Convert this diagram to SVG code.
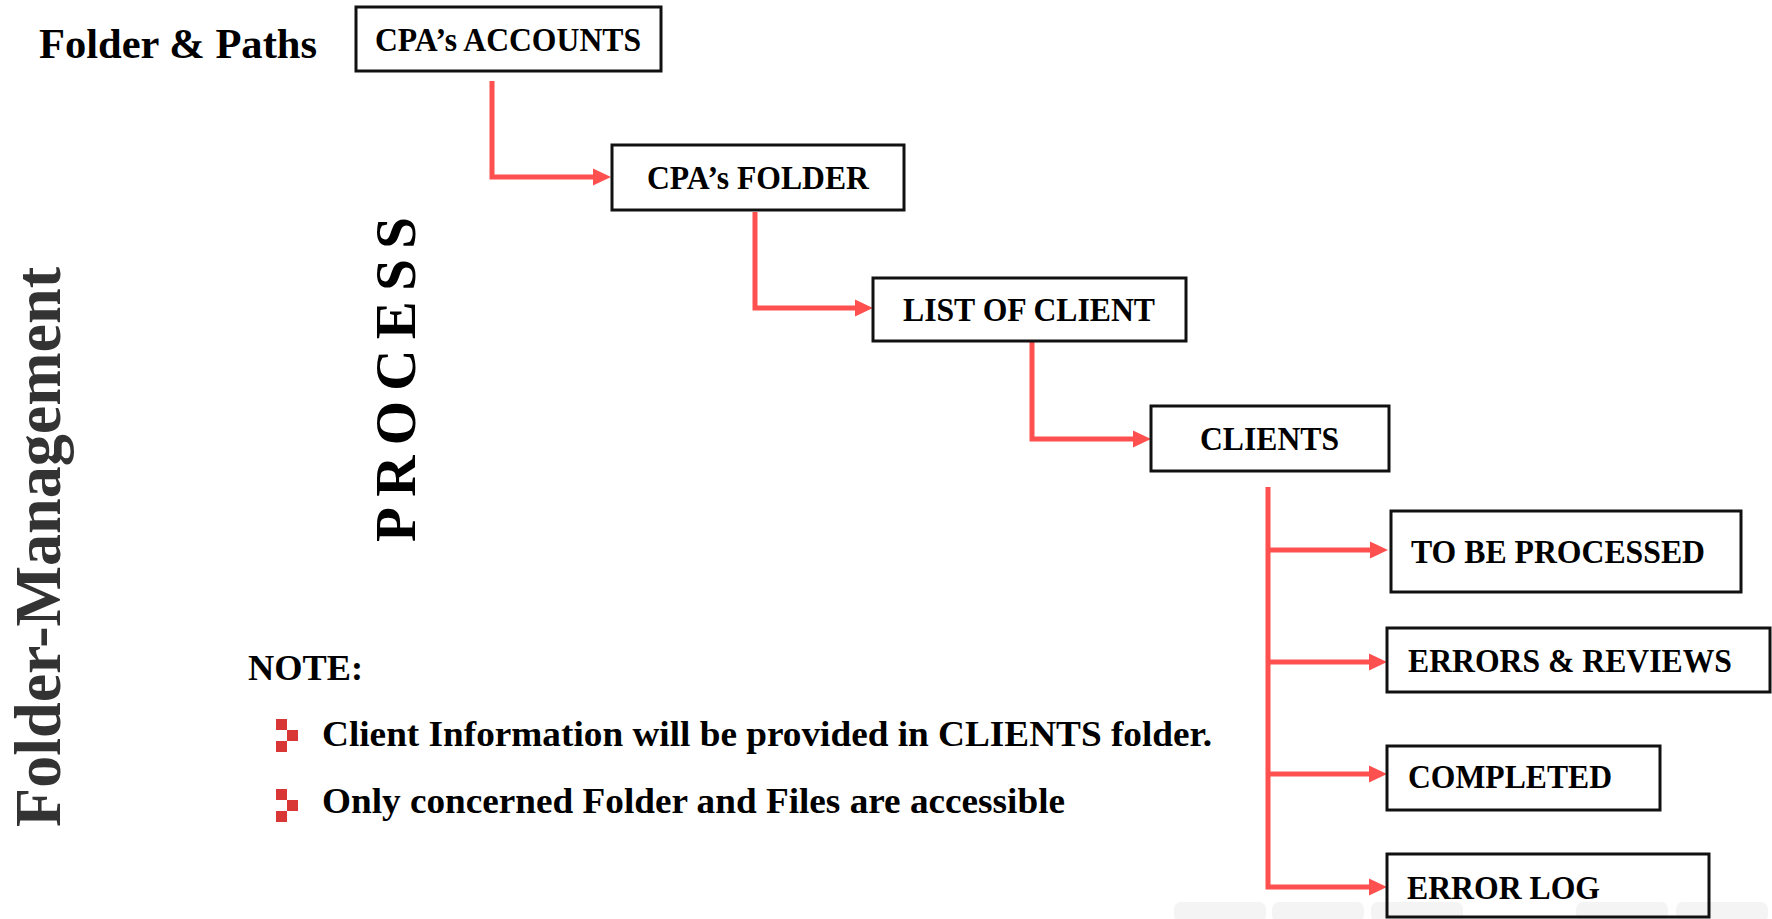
<svg xmlns="http://www.w3.org/2000/svg" width="1772" height="919" viewBox="0 0 1772 919">
<style>
.bg{fill:#ffffff}
.box{fill:none;stroke:#111111;stroke-width:3}
.lbl{font-family:"Liberation Serif","Times New Roman",serif;font-weight:bold;font-size:33px;fill:#000000}
.title{font-family:"Liberation Serif","Times New Roman",serif;font-weight:bold;fill:#000000}
.side{font-family:"Liberation Serif","Times New Roman",serif;font-weight:bold;fill:#333333}
.conn{fill:none;stroke:#FF5050;stroke-width:5;stroke-linejoin:miter}
.bul{fill:#D93636}
.foot{fill:#f4f4f4}
</style>
<defs>
<marker id="arr" markerUnits="userSpaceOnUse" markerWidth="19" markerHeight="18" refX="0" refY="8.5" orient="auto" overflow="visible">
<path d="M0,0 L18,8.5 L0,17 Z" fill="#FF5050"/>
</marker>
</defs>
<rect class="bg" x="0" y="0" width="1772" height="919"/>
<g id="footer">
<rect class="foot" x="1174" y="902" width="92" height="20" rx="7"/>
<rect class="foot" x="1272" y="902" width="92" height="20" rx="7"/>
<rect class="foot" x="1371" y="902" width="92" height="20" rx="7"/>
<rect class="foot" x="1576" y="902" width="92" height="20" rx="7"/>
<rect class="foot" x="1676" y="902" width="92" height="20" rx="7"/>
</g>
<g id="heading">
<text class="title" x="39" y="58" font-size="43" textLength="278" lengthAdjust="spacingAndGlyphs">Folder &amp; Paths</text>
</g>
<g id="side-title">
<text class="side" transform="translate(60,827) rotate(-90)" x="0" y="0" font-size="65" textLength="560" lengthAdjust="spacingAndGlyphs">Folder-Management</text>
</g>
<g id="process-label">
<text class="title" transform="translate(415,542) rotate(-90)" x="0" y="0" font-size="57" textLength="325" lengthAdjust="spacing">PROCESS</text>
</g>
<g id="connectors">
<path class="conn" d="M492,81 V177 H593" marker-end="url(#arr)"/>
<path class="conn" d="M755,212 V308 H855" marker-end="url(#arr)"/>
<path class="conn" d="M1032,342 V439 H1133" marker-end="url(#arr)"/>
<path class="conn" d="M1268,487 V887 H1369" marker-end="url(#arr)"/>
<path class="conn" d="M1268,550 H1370" marker-end="url(#arr)"/>
<path class="conn" d="M1268,662 H1369" marker-end="url(#arr)"/>
<path class="conn" d="M1268,774 H1369" marker-end="url(#arr)"/>
</g>
<g id="cpa-accounts">
<rect class="box" x="356" y="7" width="305" height="64"/>
<text class="lbl" x="375" y="51" textLength="266" lengthAdjust="spacingAndGlyphs">CPA’s ACCOUNTS</text>
</g>
<g id="cpa-folder">
<rect class="box" x="612" y="145" width="292" height="65"/>
<text class="lbl" x="647" y="189" textLength="222" lengthAdjust="spacingAndGlyphs">CPA’s FOLDER</text>
</g>
<g id="list-of-client">
<rect class="box" x="873" y="278" width="313" height="63"/>
<text class="lbl" x="903" y="321" textLength="252" lengthAdjust="spacingAndGlyphs">LIST OF CLIENT</text>
</g>
<g id="clients">
<rect class="box" x="1151" y="406" width="238" height="65"/>
<text class="lbl" x="1200" y="450" textLength="139" lengthAdjust="spacingAndGlyphs">CLIENTS</text>
</g>
<g id="to-be-processed">
<rect class="box" x="1391" y="511" width="350" height="81"/>
<text class="lbl" x="1411" y="563" textLength="294" lengthAdjust="spacingAndGlyphs">TO BE PROCESSED</text>
</g>
<g id="errors-reviews">
<rect class="box" x="1387" y="628" width="383" height="64"/>
<text class="lbl" x="1408" y="672" textLength="324" lengthAdjust="spacingAndGlyphs">ERRORS &amp; REVIEWS</text>
</g>
<g id="completed">
<rect class="box" x="1387" y="746" width="273" height="64"/>
<text class="lbl" x="1408" y="788" textLength="204" lengthAdjust="spacingAndGlyphs">COMPLETED</text>
</g>
<g id="error-log">
<rect class="box" x="1387" y="854" width="322" height="63"/>
<text class="lbl" x="1407" y="899" textLength="193" lengthAdjust="spacingAndGlyphs">ERROR LOG</text>
</g>
<g id="note">
<text class="title" x="248" y="680" font-size="36" textLength="115" lengthAdjust="spacingAndGlyphs">NOTE:</text>
<rect class="bul" x="276" y="719" width="11" height="11"/>
<rect class="bul" x="287" y="730" width="11" height="11"/>
<rect class="bul" x="276" y="741" width="11" height="11"/>
<text class="title" x="322" y="746" font-size="35" textLength="890" lengthAdjust="spacingAndGlyphs">Client Information will be provided in CLIENTS folder.</text>
<rect class="bul" x="276" y="789" width="11" height="11"/>
<rect class="bul" x="287" y="800" width="11" height="11"/>
<rect class="bul" x="276" y="811" width="11" height="11"/>
<text class="title" x="322" y="813" font-size="35" textLength="743" lengthAdjust="spacingAndGlyphs">Only concerned Folder and Files are accessible</text>
</g>
</svg>
